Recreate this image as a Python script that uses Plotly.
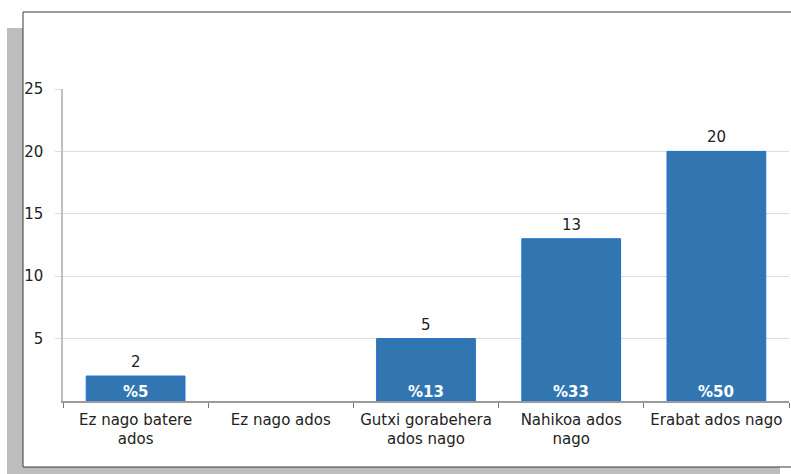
import plotly.graph_objects as go

categories = [
    "Ez nago batere<br>ados",
    "Ez nago ados",
    "Gutxi gorabehera<br>ados nago",
    "Nahikoa ados<br>nago",
    "Erabat ados nago",
]
counts = [2, 0, 5, 13, 20]
percent_labels = ["%5", "", "%13", "%33", "%50"]

W, H = 791, 474
# plot area in pixels: x 63..789, y 89..401
L, T = 63, 89
R, B = W - 789, H - 401
pw, ph = W - L - R, H - T - B


def px_x(x):
    return (x - L) / pw


def px_y(y):
    return (H - B - y) / ph


fig = go.Figure()

fig.add_trace(go.Bar(
    x=categories,
    y=counts,
    width=0.68,
    marker=dict(color="#3276B1",
                line=dict(color="#1E6FD0", width=[1 if v > 0 else 0 for v in counts])),
    hoverinfo="skip",
))

for c, v, p in zip(categories, counts, percent_labels):
    if v > 0:
        # count above the bar
        fig.add_annotation(x=c, y=v, text=str(v), showarrow=False,
                           yanchor="bottom", yshift=3,
                           font=dict(family="DejaVu Sans", size=15, color="#222222"))
        # share of answers at the foot of the bar
        fig.add_annotation(x=c, y=0, text=p, showarrow=False,
                           yanchor="middle", yshift=9,
                           font=dict(family="DejaVu Sans", size=15, color="white",
                                     weight="bold"))

# drop shadow and framed panel
fig.add_shape(type="rect", xref="paper", yref="paper", layer="below",
              x0=px_x(7), x1=px_x(780), y0=px_y(480), y1=px_y(28),
              fillcolor="#BDBDBD", line=dict(width=0))
fig.add_shape(type="rect", xref="paper", yref="paper", layer="below",
              x0=px_x(23), x1=px_x(800), y0=px_y(467), y1=px_y(12),
              fillcolor="white", line=dict(color="#3A3A3A", width=1))

fig.update_layout(
    width=W,
    height=H,
    margin=dict(l=L, r=R, t=T, b=B),
    paper_bgcolor="white",
    plot_bgcolor="rgba(0,0,0,0)",
    showlegend=False,
    font=dict(family="DejaVu Sans", size=15, color="#222222"),
)
fig.update_xaxes(
    range=[-0.5, 4.5],
    showgrid=False,
    showline=True,
    linecolor="#9A9A9A",
    linewidth=1.5,
    ticks="outside",
    tickson="boundaries",
    ticklen=5,
    tickcolor="#777777",
    ticklabelstandoff=4,
    tickangle=0,
    automargin=False,
    tickfont=dict(size=15, color="#222222"),
)
fig.update_yaxes(
    range=[0, 25],
    tickvals=[5, 10, 15, 20, 25],
    showgrid=True,
    gridcolor="#DDDDDD",
    gridwidth=1,
    zeroline=False,
    showline=True,
    linecolor="#C0C0C0",
    linewidth=1.5,
    ticks="outside",
    ticklen=6,
    tickcolor="#DDDDDD",
    ticklabelstandoff=9,
    automargin=False,
    tickfont=dict(size=15, color="#222222"),
)

# page body margin would push the figure 8px in and make the page overflow
fig.write_html("out.html",
               config={"displayModeBar": False},
               post_script="document.body.style.margin='0';"
                           "document.body.style.overflow='hidden';")
